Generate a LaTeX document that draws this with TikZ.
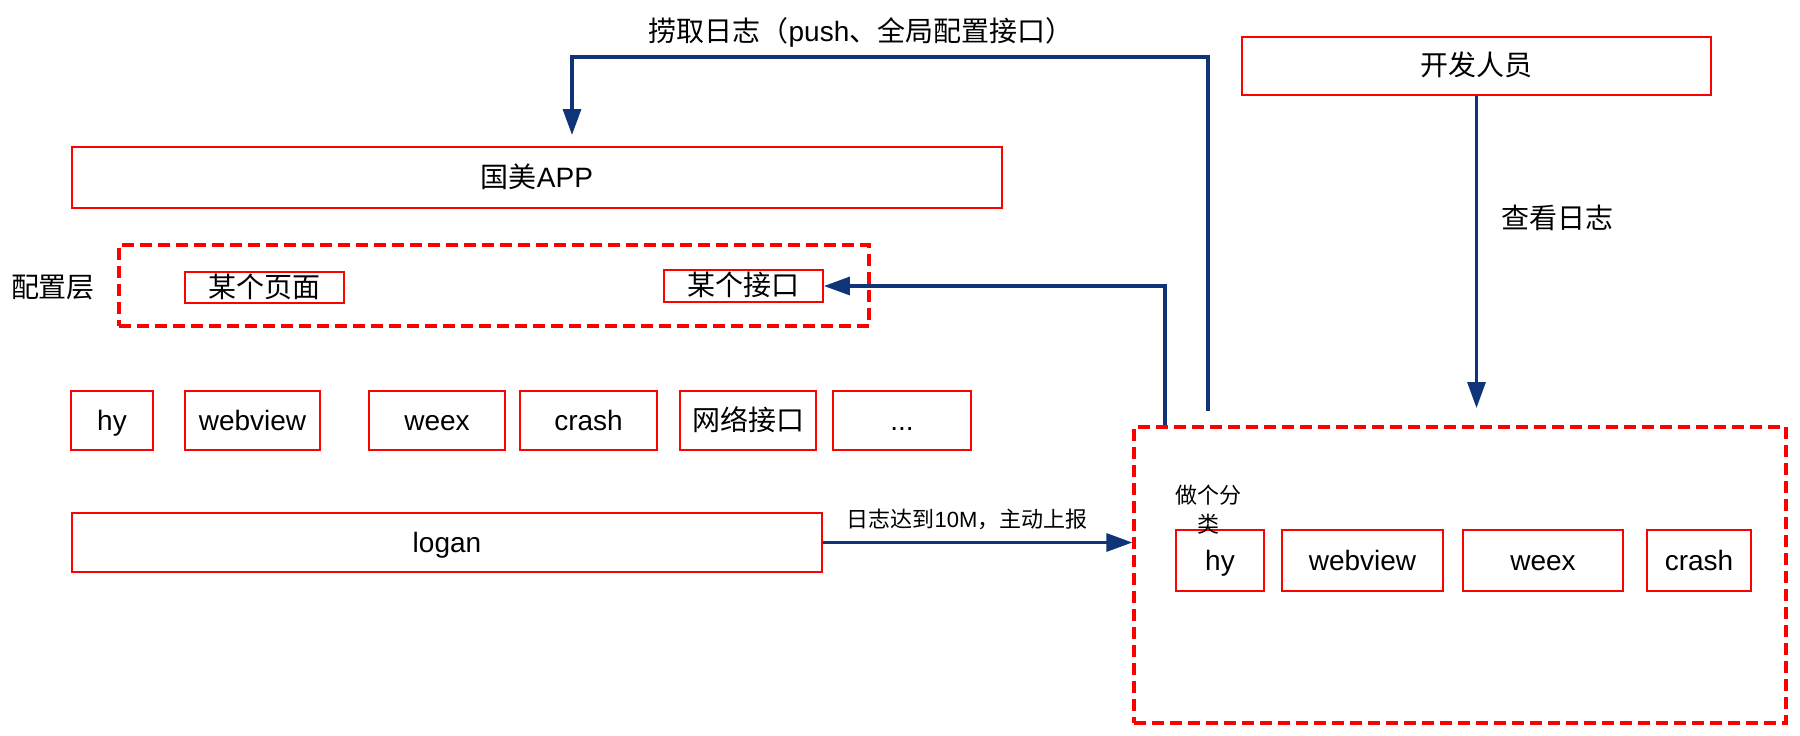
\documentclass[tikz,border=0pt]{standalone}
\usepackage{fontspec}
\setmainfont{Liberation Sans}
\newfontfamily\cjk{Noto Sans CJK SC}
\usetikzlibrary{arrows.meta}
\definecolor{navy}{RGB}{16,52,120}
\definecolor{bred}{RGB}{255,0,0}
\begin{document}
\begin{tikzpicture}[x=1pt,y=-1pt,
  box/.style={draw=bred,line width=1.8pt,inner sep=0pt,text height=25.3pt,text depth=5.9pt,font=\fontsize{28}{34}\selectfont},
  dbox/.style={draw=bred,line width=3.3pt,dash pattern=on 12pt off 6pt,inner sep=0pt},
  lbl/.style={inner sep=0pt,text height=25.3pt,text depth=5.9pt,font=\fontsize{28}{34}\selectfont},
  slbl/.style={inner sep=0pt,text height=19.9pt,text depth=4.7pt,font=\fontsize{22}{30}\selectfont},
  mlbl/.style={inner sep=0pt,align=center,font=\fontsize{22}{29}\selectfont},
  conn/.style={draw=navy,line width=3.2pt,-{Triangle[length=26pt,width=18pt]}}]
\useasboundingbox (0,0) rectangle (1800,736);
% top-left
\node[lbl] (toplbl) at (861,32) {{\cjk 捞取日志（}push{\cjk 、全局配置接口）}};
\node[box,minimum width=469pt,minimum height=58pt] (dev) at (1476.5,66) {\cjk 开发人员};
\node[box,minimum width=930pt,minimum height=61pt] (app) at (537,177.5) {{\cjk 国美}APP};
\node[lbl] (cfglbl) at (53,288) {\cjk 配置层};
\node[dbox,minimum width=750pt,minimum height=81pt] (cfg) at (494,285.5) {};
\node[box,minimum width=159pt,minimum height=31pt] (page) at (264.5,287.5) {\cjk 某个页面};
\node[box,minimum width=159pt,minimum height=32pt] (api) at (743.5,286) {\cjk 某个接口};
% row
\node[box,minimum width=82pt,minimum height=59pt] (hy) at (112,420.5) {hy};
\node[box,minimum width=135pt,minimum height=59pt] (webview) at (252.5,420.5) {webview};
\node[box,minimum width=136pt,minimum height=59pt] (weex) at (437,420.5) {weex};
\node[box,minimum width=137pt,minimum height=59pt] (crash) at (588.5,420.5) {crash};
\node[box,minimum width=136pt,minimum height=59pt] (net) at (748,420.5) {\cjk 网络接口};
\node[box,minimum width=138pt,minimum height=59pt] (more) at (902,420.5) {...};
\node[box,minimum width=750pt,minimum height=59pt] (logan) at (447,542.5) {logan};
% right dashed group
\node[dbox,minimum width=652pt,minimum height=296pt] (big) at (1460,575) {};
\node[box,minimum width=88pt,minimum height=61pt] (rhy) at (1220,560.5) {hy};
\node[box,minimum width=161pt,minimum height=61pt] (rwebview) at (1362.5,560.5) {webview};
\node[box,minimum width=160pt,minimum height=61pt] (rweex) at (1543,560.5) {weex};
\node[box,minimum width=104pt,minimum height=61pt] (rcrash) at (1699,560.5) {crash};
\node[mlbl] (cls) at (1208,510) {\cjk 做个分\\\cjk 类};
% labels
\node[lbl] (look) at (1557,219) {\cjk 查看日志};
\node[slbl] (uplbl) at (967,520) {{\cjk 日志达到}10M{\cjk ，主动上报}};
% connectors
\coordinate (s1) at (1208,411);
\coordinate (k1) at (1208,57);
\coordinate (t1) at (572,135);
\draw[conn] (s1) -- (k1) -| (t1);
\coordinate (t3) at (1476.5,408);
\draw[conn] (dev.south) -- (t3);
\coordinate (c2) at (1165,0);
\draw[conn] (c2 |- big.north) -- (c2 |- api.east) -- (api.east);
\draw[conn] (logan.east) -- (logan.east -| big.west);
\end{tikzpicture}
\end{document}
